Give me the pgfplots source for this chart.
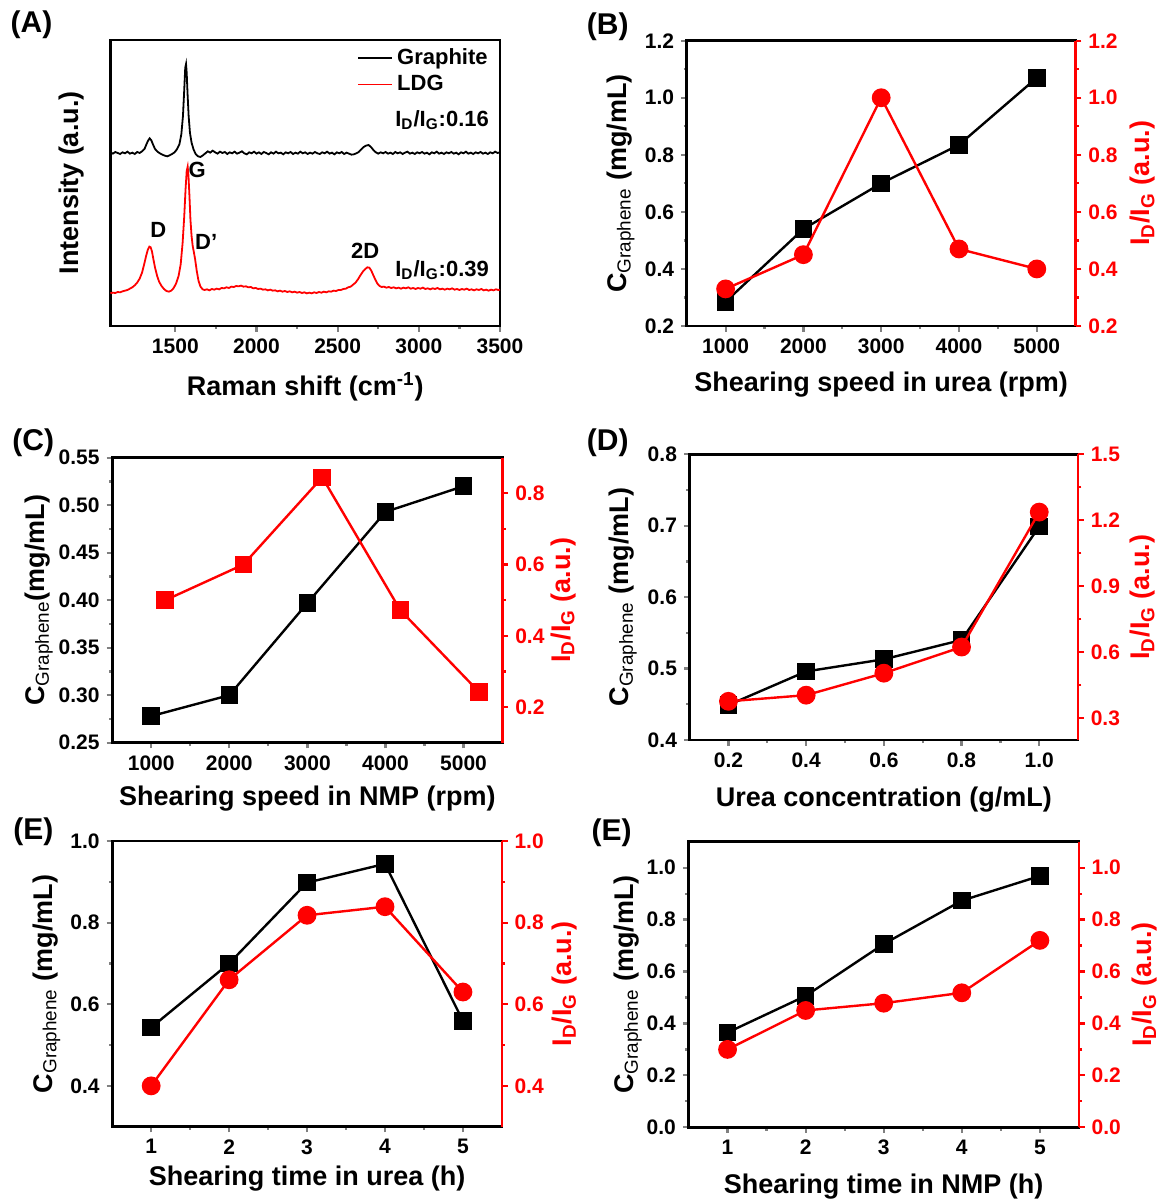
\documentclass[border=0pt]{standalone}
\usepackage{fontspec}
\setmainfont{Liberation Sans}
\usepackage{pgfplots}
\pgfplotsset{compat=1.18}

\newcommand{\tk}{\bfseries\fontsize{10.5}{12}\selectfont}
\newcommand{\lb}{\bfseries\fontsize{13.5}{16}\selectfont}
\newcommand{\cg}{C\textsubscript{\mdseries Graphene} (mg/mL)}
\newcommand{\cgn}{C\textsubscript{\mdseries Graphene}(mg/mL)}
\newcommand{\idig}{I\textsubscript{D}/I\textsubscript{G}}

\pgfplotsset{
  panel/.style={
    scale only axis, anchor=south west,
    width=195pt, height=143pt,
    axis line style={line width=1.3pt},
    tick style={line width=1.1pt},
    major tick length=2.8pt, minor tick length=1.6pt,
    tick align=outside,
    ticklabel style={font=\tk},
    /pgf/number format/assume math mode=true,
    /pgf/number format/1000 sep={},
    scaled ticks=false,
    label style={font=\lb},
    minor tick num=1,
    clip=false,
  },
  lax/.style={panel, tick pos=left},
  rax/.style={panel, axis x line=none, axis y line*=right, ytick pos=right,
    y axis line style={red,-}, ytick style={red}, yticklabel style={red},
    ylabel style={red}},
  blk/.style={black, line width=1.2pt, mark=square*, mark size=3.8pt},
  rcir/.style={red, line width=1.2pt, mark=*, mark size=4.1pt},
  rsq/.style={red, line width=1.2pt, mark=square*, mark size=3.8pt},
  y1/.style={yticklabel style={/pgf/number format/fixed, /pgf/number format/fixed zerofill, /pgf/number format/precision=1}},
  y2/.style={yticklabel style={/pgf/number format/fixed, /pgf/number format/fixed zerofill, /pgf/number format/precision=2}},
}

\begin{document}
\begin{tikzpicture}
\useasboundingbox (0,0) rectangle (580.5pt,600pt);

% ---------------- (A) Raman ----------------
\begin{axis}[lax, at={(55.2pt,437pt)}, width=194.8pt, height=143pt,
  xmin=1100, xmax=3500, ymin=0, ymax=858,
  xtick={1500,2000,2500,3000,3500}, ytick=\empty,
  xlabel={Raman shift (cm\textsuperscript{-1})},
  ylabel={Intensity (a.u.)},
  xlabel style={at={(axis description cs:0.5,-0.212)}, anchor=center},
  ylabel style={at={(axis description cs:-0.099,0.5)}, anchor=center},
  legend style={draw=none, fill=none, at={(0.995,1.0)}, anchor=north east,
    font=\bfseries\fontsize{11}{12}\selectfont, row sep=0pt},
  legend cell align=left]
\addplot[black, line width=0.9pt] coordinates {
(1100,521)(1115,517)(1130,522)(1145,519)(1160,516)(1175,521)(1190,518)(1205,523)
(1220,517)(1235,520)(1250,516)(1265,522)(1280,519)(1295,524)(1310,531)(1322,545)
(1332,556)(1342,563)(1352,557)(1362,545)(1375,531)(1390,523)(1405,518)(1420,514)
(1435,511)(1450,509)(1465,512)(1480,516)(1495,521)(1510,530)(1525,545)(1537,575)
(1547,630)(1555,710)(1561,775)(1566,786)(1570,760)(1575,700)(1582,630)(1590,580)
(1600,550)(1612,530)(1625,516)(1640,509)(1655,507)(1670,512)(1685,518)(1700,524)
(1715,520)(1730,526)(1745,521)(1760,517)(1775,523)(1790,519)(1805,522)(1820,516)
(1835,521)(1850,518)(1865,523)(1880,517)(1895,520)(1910,524)(1925,518)(1940,515)
(1955,521)(1970,518)(1985,523)(2000,517)(2015,521)(2030,516)(2045,522)(2060,519)
(2075,515)(2090,521)(2105,517)(2120,523)(2135,518)(2150,520)(2165,515)(2180,521)
(2195,518)(2210,522)(2225,516)(2240,520)(2255,517)(2270,523)(2285,518)(2300,521)
(2315,516)(2330,520)(2345,517)(2360,522)(2375,518)(2390,516)(2405,521)(2420,518)
(2435,523)(2450,517)(2465,520)(2480,515)(2495,521)(2510,518)(2525,522)(2540,516)
(2555,520)(2570,517)(2585,514)(2600,515)(2615,518)(2630,522)(2645,530)(2660,537)
(2675,541)(2690,543)(2705,537)(2720,528)(2735,521)(2750,517)(2765,521)(2780,518)
(2795,522)(2810,517)(2825,520)(2840,516)(2855,522)(2870,518)(2885,521)(2900,516)
(2915,520)(2930,523)(2945,517)(2960,520)(2975,516)(2990,521)(3005,518)(3020,522)
(3035,517)(3050,520)(3065,515)(3080,521)(3095,518)(3110,523)(3125,517)(3140,520)
(3155,516)(3170,521)(3185,518)(3200,522)(3215,517)(3230,520)(3245,515)(3260,521)
(3275,518)(3290,523)(3305,517)(3320,520)(3335,516)(3350,521)(3365,518)(3380,522)
(3395,517)(3410,520)(3425,516)(3440,521)(3455,518)(3470,523)(3485,519)(3500,521)
};
\addlegendentry{Graphite}
\addplot[red, line width=0.9pt] coordinates {
(1100,98)(1115,100)(1130,99)(1145,102)(1160,101)(1175,104)(1190,106)(1205,108)
(1220,112)(1235,116)(1250,122)(1265,130)(1280,142)(1295,160)(1308,185)(1320,210)
(1330,228)(1340,238)(1348,236)(1356,224)(1365,200)(1375,175)(1388,150)(1400,133)
(1415,120)(1430,111)(1445,105)(1460,103)(1475,106)(1490,114)(1505,128)(1520,150)
(1533,185)(1545,250)(1555,330)(1563,410)(1570,465)(1576,478)(1581,450)(1587,390)
(1593,320)(1600,270)(1607,240)(1614,222)(1622,200)(1632,165)(1643,135)(1655,118)
(1668,110)(1680,108)(1695,110)(1710,107)(1725,111)(1740,109)(1755,112)(1770,110)
(1785,114)(1800,113)(1815,116)(1830,114)(1845,118)(1860,117)(1875,120)(1890,119)
(1905,121)(1920,118)(1935,119)(1950,116)(1965,117)(1980,113)(1995,114)(2010,111)
(2025,112)(2040,109)(2055,110)(2070,107)(2085,109)(2100,106)(2115,107)(2130,104)
(2145,106)(2160,103)(2175,105)(2190,102)(2205,104)(2220,101)(2235,103)(2250,100)
(2265,102)(2280,99)(2295,101)(2310,98)(2325,100)(2340,98)(2355,101)(2370,99)
(2385,102)(2400,100)(2415,103)(2430,101)(2445,104)(2460,103)(2475,106)(2490,105)
(2505,108)(2520,108)(2535,111)(2550,112)(2565,116)(2580,118)(2595,124)(2610,130)
(2625,140)(2640,152)(2655,163)(2670,171)(2683,176)(2695,175)(2707,166)(2720,152)
(2733,138)(2745,127)(2758,120)(2770,117)(2785,118)(2800,115)(2815,117)(2830,114)
(2845,116)(2860,113)(2875,115)(2890,112)(2905,115)(2920,113)(2935,116)(2950,112)
(2965,114)(2980,111)(2995,114)(3010,112)(3025,115)(3040,111)(3055,113)(3070,110)
(3085,113)(3100,111)(3115,114)(3130,110)(3145,112)(3160,109)(3175,112)(3190,110)
(3205,113)(3220,109)(3235,111)(3250,108)(3265,111)(3280,109)(3295,112)(3310,108)
(3325,110)(3340,107)(3355,110)(3370,108)(3385,111)(3400,107)(3415,109)(3430,106)
(3445,109)(3460,107)(3475,110)(3490,108)(3500,109)
};
\addlegendentry{LDG}
\node[font=\bfseries\fontsize{11}{12}\selectfont, anchor=east] at (axis cs:3475,618) {\idig:0.16};
\node[font=\bfseries\fontsize{11}{12}\selectfont, anchor=east] at (axis cs:3475,168) {\idig:0.39};
\node[font=\bfseries\fontsize{11}{12}\selectfont] at (axis cs:1395,288) {D};
\node[font=\bfseries\fontsize{11}{12}\selectfont] at (axis cs:1635,468) {G};
\node[font=\bfseries\fontsize{11}{12}\selectfont] at (axis cs:1690,253) {D'};
\node[font=\bfseries\fontsize{11}{12}\selectfont] at (axis cs:2669,226) {2D};
\end{axis}

% ---------------- (B) ----------------
\begin{axis}[lax, y1, at={(343.35pt,437pt)}, width=194.5pt, height=142.65pt,
  xmin=500, xmax=5500, xtick={1000,2000,3000,4000,5000},
  ymin=0.2, ymax=1.2, ytick={0.2,0.4,0.6,0.8,1.0,1.2},
  xlabel={Shearing speed in urea (rpm)}, ylabel={\cg},
  xlabel style={at={(axis description cs:0.5,-0.207)}, anchor=center},
  ylabel style={at={(axis description cs:-0.170,0.5)}, anchor=center}]
\addplot[blk] coordinates {(1000,0.285)(2000,0.54)(3000,0.70)(4000,0.835)(5000,1.07)};
\end{axis}
\begin{axis}[rax, y1, at={(343.35pt,437pt)}, width=194.5pt, height=142.65pt,
  xmin=500, xmax=5500,
  ymin=0.2, ymax=1.2, ytick={0.2,0.4,0.6,0.8,1.0,1.2},
  ylabel={\idig\ (a.u.)},
  ylabel style={at={(axis description cs:1.173,0.5)}, anchor=center}]
\addplot[rcir] coordinates {(1000,0.33)(2000,0.45)(3000,1.0)(4000,0.47)(5000,0.40)};
\end{axis}

% ---------------- (C) ----------------
\begin{axis}[lax, y2, at={(56.1pt,228.65pt)}, width=195.2pt, height=142.5pt,
  xmin=500, xmax=5500, xtick={1000,2000,3000,4000,5000},
  ymin=0.25, ymax=0.55, ytick={0.25,0.3,0.35,0.4,0.45,0.5,0.55},
  xlabel={Shearing speed in NMP (rpm)}, ylabel={\cgn},
  xlabel style={at={(axis description cs:0.5,-0.195)}, anchor=center},
  ylabel style={at={(axis description cs:-0.188,0.5)}, anchor=center}]
\addplot[blk] coordinates {(1000,0.278)(2000,0.30)(3000,0.397)(4000,0.493)(5000,0.52)};
\end{axis}
\begin{axis}[rax, y1, at={(56.1pt,228.65pt)}, width=195.2pt, height=142.5pt,
  xmin=500, xmax=5500,
  ymin=0.1, ymax=0.9, ytick={0.2,0.4,0.6,0.8},
  ylabel={\idig\ (a.u.)},
  ylabel style={at={(axis description cs:1.155,0.5)}, anchor=center}]
\addplot[rsq] coordinates {(1180,0.50)(2180,0.60)(3190,0.845)(4190,0.472)(5200,0.242)};
\end{axis}

% ---------------- (D) ----------------
\begin{axis}[lax, y1, at={(344.8pt,230pt)}, width=194.25pt, height=142.85pt,
  xmin=0.1, xmax=1.1, xtick={0.2,0.4,0.6,0.8,1.0},
  xticklabel style={/pgf/number format/fixed, /pgf/number format/fixed zerofill, /pgf/number format/precision=1},
  ymin=0.4, ymax=0.8, ytick={0.4,0.5,0.6,0.7,0.8},
  xlabel={Urea concentration (g/mL)}, ylabel={\cg},
  xlabel style={at={(axis description cs:0.5,-0.21)}, anchor=center},
  ylabel style={at={(axis description cs:-0.172,0.5)}, anchor=center}]
\addplot[blk] coordinates {(0.2,0.449)(0.4,0.496)(0.6,0.513)(0.8,0.540)(1.0,0.699)};
\end{axis}
\begin{axis}[rax, y1, at={(344.8pt,230pt)}, width=194.25pt, height=142.85pt,
  xmin=0.1, xmax=1.1,
  ymin=0.2, ymax=1.5, ytick={0.3,0.6,0.9,1.2,1.5},
  ylabel={\idig\ (a.u.)},
  ylabel style={at={(axis description cs:1.167,0.5)}, anchor=center}]
\addplot[rcir] coordinates {(0.2,0.376)(0.4,0.404)(0.6,0.504)(0.8,0.623)(1.0,1.237)};
\end{axis}

% ---------------- (E) left ----------------
\begin{axis}[lax, y1, at={(56.1pt,36.65pt)}, width=194.85pt, height=142.85pt,
  xmin=0.5, xmax=5.5, xtick={1,2,3,4,5},
  ymin=0.3, ymax=1.0, ytick={0.4,0.6,0.8,1.0},
  xlabel={Shearing time in urea (h)}, ylabel={\cg},
  xlabel style={at={(axis description cs:0.5,-0.181)}, anchor=center},
  ylabel style={at={(axis description cs:-0.169,0.5)}, anchor=center}]
\addplot[blk] coordinates {(1,0.543)(2,0.700)(3,0.898)(4,0.944)(5,0.559)};
\end{axis}
\begin{axis}[rax, y1, at={(56.1pt,36.65pt)}, width=194.85pt, height=142.85pt,
  xmin=0.5, xmax=5.5,
  ymin=0.3, ymax=1.0, ytick={0.4,0.6,0.8,1.0},
  ylabel={\idig\ (a.u.)},
  ylabel style={at={(axis description cs:1.161,0.5)}, anchor=center}]
\addplot[rcir] coordinates {(1,0.40)(2,0.66)(3,0.818)(4,0.839)(5,0.63)};
\end{axis}

% ---------------- (E) right ----------------
\begin{axis}[lax, y1, at={(344.25pt,36.35pt)}, width=195.2pt, height=142.8pt,
  xmin=0.5, xmax=5.5, xtick={1,2,3,4,5},
  ymin=0, ymax=1.1, ytick={0,0.2,0.4,0.6,0.8,1.0},
  xlabel={Shearing time in NMP (h)}, ylabel={\cg},
  xlabel style={at={(axis description cs:0.5,-0.208)}, anchor=center},
  ylabel style={at={(axis description cs:-0.155,0.5)}, anchor=center}]
\addplot[blk] coordinates {(1,0.365)(2,0.506)(3,0.706)(4,0.873)(5,0.968)};
\end{axis}
\begin{axis}[rax, y1, at={(344.25pt,36.35pt)}, width=195.2pt, height=142.8pt,
  xmin=0.5, xmax=5.5,
  ymin=0, ymax=1.1, ytick={0,0.2,0.4,0.6,0.8,1.0},
  ylabel={\idig\ (a.u.)},
  ylabel style={at={(axis description cs:1.169,0.5)}, anchor=center}]
\addplot[rcir] coordinates {(1,0.30)(2,0.45)(3,0.478)(4,0.518)(5,0.72)};
\end{axis}

% panel letters
\begin{scope}[every node/.style={font=\bfseries\fontsize{15}{17}\selectfont}]
\node at (15.75pt,587.5pt) {(A)};
\node at (303.9pt,586.5pt) {(B)};
\node at (16.65pt,378.5pt) {(C)};
\node at (303.9pt,378.5pt) {(D)};
\node at (16.65pt,184pt) {(E)};
\node at (305.75pt,183.5pt) {(E)};
\end{scope}
\end{tikzpicture}
\end{document}
